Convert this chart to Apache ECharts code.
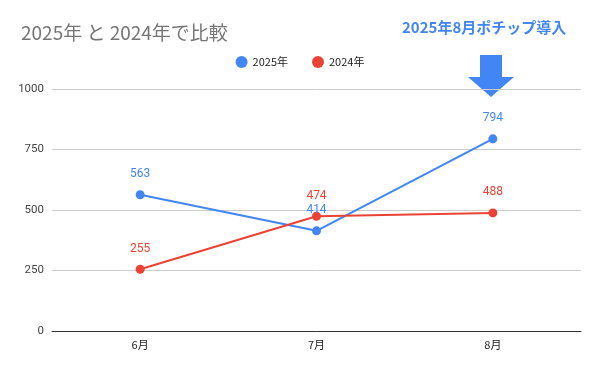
<!DOCTYPE html>
<html><head><meta charset="utf-8">
<script src="https://cdn.jsdelivr.net/npm/echarts@6/dist/echarts.min.js"></script>
<style>html,body{margin:0;padding:0;background:#fff}#c{width:600px;height:371px}</style>
</head><body><div id="c"></div>
<script>
const categories = ['6月', '7月', '8月'];
const values2025 = [563, 414, 794];
const values2024 = [255, 474, 488];
const yTicks = [0, 250, 500, 750, 1000];
const seriesNames = ['2025年', '2024年'];
const titleText = '2025年 と 2024年で比較';
const noteText = '2025年8月ポチップ導入';

const font = '"Noto Sans CJK JP", Roboto, Arial, sans-serif';
const chart = echarts.init(document.getElementById('c'));
chart.setOption({
  animation: false,
  textStyle: { fontFamily: font },
  title: {
    text: titleText, left: 16, top: 18,
    textStyle: { fontFamily: font, fontSize: 19, fontWeight: 'normal', color: '#757575' }
  },
  legend: {
    top: 51, left: 'center', itemWidth: 12, itemHeight: 12, itemGap: 24,
    icon: 'circle',
    textStyle: { fontFamily: font, fontSize: 11, color: '#222' },
    data: seriesNames
  },
  grid: { left: 52, right: 19, top: 89, bottom: 40 },
  xAxis: {
    type: 'category', data: categories,
    axisLine: { lineStyle: { color: '#333', width: 1 } },
    axisTick: { show: false },
    axisLabel: { color: '#222', fontSize: 11, margin: 8, fontFamily: font }
  },
  yAxis: {
    type: 'value', min: 0, max: 1000, interval: 250,
    axisLine: { show: false }, axisTick: { show: false },
    splitLine: { lineStyle: { color: '#cccccc' } },
    axisLabel: { color: '#444', fontSize: 11.5, margin: 8, fontFamily: 'Roboto, Arial, sans-serif',
      formatter: v => yTicks.includes(v) ? String(v) : '' }
  },
  series: [
    {
      name: seriesNames[0], type: 'line', data: values2025,
      symbol: 'circle', symbolSize: 9,
      lineStyle: { width: 2, color: '#4285F4' },
      itemStyle: { color: '#4285F4' },
      label: { show: true, position: 'top', distance: 10, color: '#4285F4', fontSize: 12, fontFamily: 'Roboto, Arial, sans-serif' }
    },
    {
      name: seriesNames[1], type: 'line', data: values2024,
      symbol: 'circle', symbolSize: 9,
      lineStyle: { width: 2, color: '#EA4335' },
      itemStyle: { color: '#EA4335' },
      label: { show: true, position: 'top', distance: 10, color: '#EA4335', fontSize: 12, fontFamily: 'Roboto, Arial, sans-serif' }
    }
  ],
  graphic: [
    {
      type: 'text', left: 402, top: 20,
      style: { text: noteText, fill: '#4285F4', font: 'bold 15px ' + font }
    },
    {
      type: 'polygon',
      shape: { points: [[480,55],[502,55],[502,77],[514,77],[491,97],[468,77],[480,77]] },
      style: { fill: '#4285F4' }
    }
  ]
});
</script></body></html>
